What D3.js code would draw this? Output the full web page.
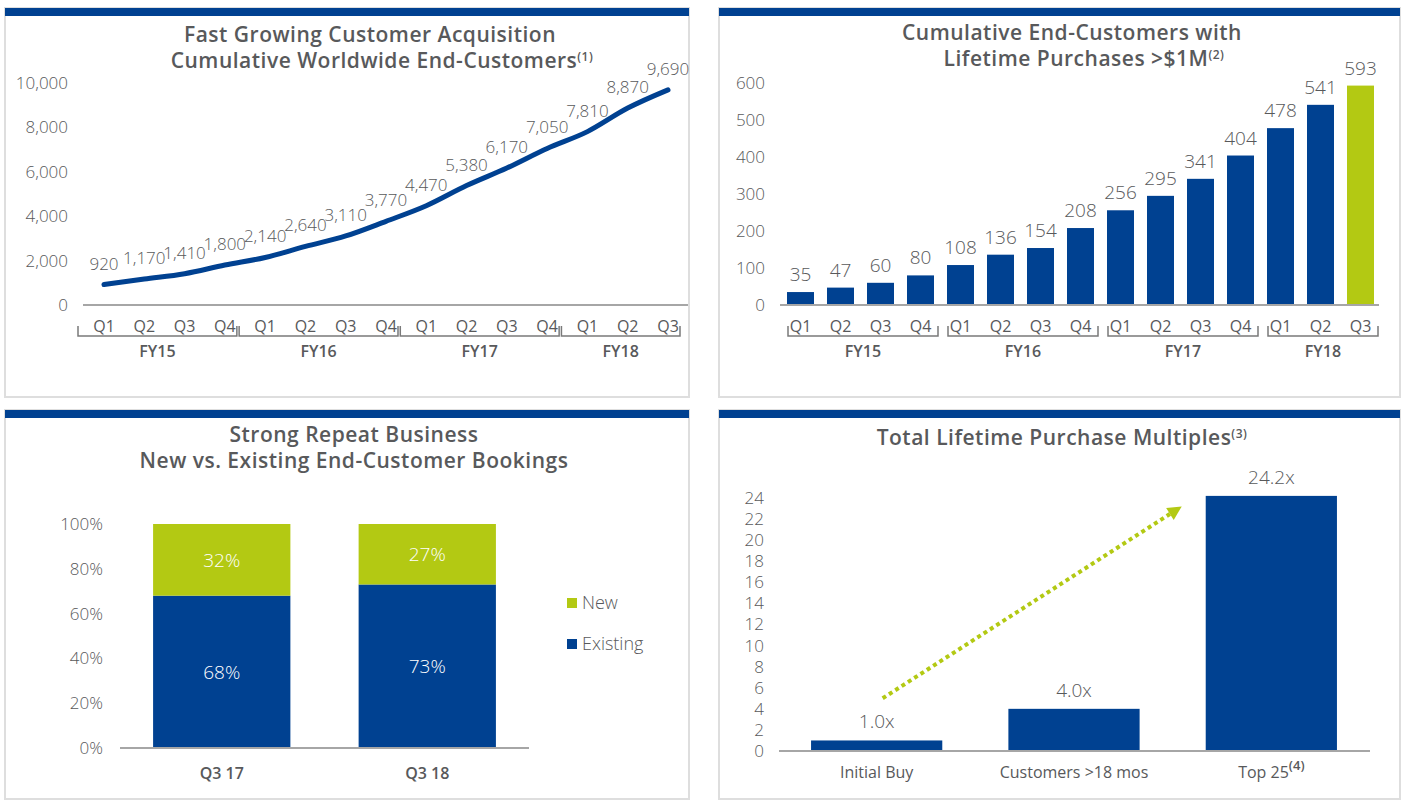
<!DOCTYPE html>
<html><head><meta charset="utf-8">
<script src="https://cdn.jsdelivr.net/npm/d3@7"></script>
<style>
html,body{margin:0;padding:0;background:#fff;}
svg{display:block;font-family:"Open Sans",sans-serif;}
</style></head>
<body><svg id="c" width="1406" height="806"></svg>
<script>
// ---------------- data ----------------
const quarters = ["Q1","Q2","Q3","Q4","Q1","Q2","Q3","Q4","Q1","Q2","Q3","Q4","Q1","Q2","Q3"];
const quarterFY = ["FY15","FY15","FY15","FY15","FY16","FY16","FY16","FY16","FY17","FY17","FY17","FY17","FY18","FY18","FY18"];
const fiscalYears = ["FY15","FY16","FY17","FY18"];
const endCustomers = [920,1170,1410,1800,2140,2640,3110,3770,4470,5380,6170,7050,7810,8870,9690];
const endCustomerTicks = [0,2000,4000,6000,8000,10000];
const millionCustomers = [35,47,60,80,108,136,154,208,256,295,341,404,478,541,593];
const millionTicks = [0,100,200,300,400,500,600];
const bookingPeriods = ["Q3 17","Q3 18"];
const existingShare = [68,73];
const newShare = [32,27];
const shareTicks = [0,20,40,60,80,100];
const multipleCats = ["Initial Buy","Customers >18 mos","Top 25"];
const multipleNotes = ["","","(4)"];
const multiples = [1.0,4.0,24.2];
const multipleTicks = [0,2,4,6,8,10,12,14,16,18,20,22,24];

// ---------------- style ----------------
const BLUE = "#004191", GREEN = "#b3c913", TXT = "#58595b", AX = "#a6a6a6", BR = "#7a7a7a";
const svg = d3.select("#c");

function panel(x0, x1, y0, y1){
  svg.append("rect").attr("x",x0).attr("y",y0).attr("width",x1-x0).attr("height",y1-y0)
    .attr("fill","#fff").attr("stroke","#dedede").attr("stroke-width",2);
  svg.append("rect").attr("x",x0).attr("y",y0).attr("width",x1-x0).attr("height",8).attr("fill",BLUE);
}
function title(lines, cx){
  lines.forEach(l=>{
    const t = svg.append("text").attr("x",cx[l.i]).attr("y",l.y).attr("text-anchor","middle")
      .attr("font-size",21).attr("font-weight",600).attr("letter-spacing",0.5).attr("fill",TXT);
    t.append("tspan").text(l.text);
    if(l.sup) t.append("tspan").attr("font-size",12).attr("dy",-7).text(l.sup);
  });
}
function yAxis(g, scale, ticks, fmt, pad){
  g.call(d3.axisLeft(scale).tickValues(ticks).tickSize(0).tickPadding(pad).tickFormat(fmt));
  g.select(".domain").remove();
  g.selectAll("text").attr("font-size",17).attr("font-weight",300).attr("fill",TXT).attr("font-family","Open Sans");
}
function brackets(g, groups, y){
  groups.forEach(gr=>{
    g.append("path").attr("d",`M${gr.l},${y-10}V${y}H${gr.r}V${y-10}`)
      .attr("fill","none").attr("stroke",BR).attr("stroke-width",1.5);
    g.append("text").attr("x",(gr.l+gr.r)/2).attr("y",y+21).attr("text-anchor","middle")
      .attr("font-size",16).attr("font-weight",600).attr("fill",TXT).text(gr.fy);
  });
}
function qLabels(g, xs, y){
  g.selectAll(".q").data(quarters).join("text")
    .attr("x",(d,i)=>xs(i)).attr("y",y).attr("text-anchor","middle")
    .attr("font-size",16).attr("font-weight",500).attr("fill",TXT).text(d=>d);
}

// ---------------- panels ----------------
panel(5,689,8,397);
panel(719,1400,8,397);
panel(5,689,410,799);
panel(719,1400,410,799);

// ======== Chart 1: line ========
{
  const x = d3.scalePoint().domain(d3.range(quarters.length)).range([104,668]);
  const y = d3.scaleLinear().domain([0,10000]).range([305,83]);
  const g = svg.append("g");
  title([{i:0,y:42,text:"Fast Growing Customer Acquisition"},{i:1,y:68,text:"Cumulative Worldwide End-Customers",sup:"(1)"}],[370,382]);
  yAxis(g.append("g").attr("transform","translate(83,0)"), y, endCustomerTicks, d3.format(","), 15);
  g.append("line").attr("x1",83).attr("x2",688).attr("y1",y(0)).attr("y2",y(0)).attr("stroke",AX).attr("stroke-width",2);
  g.append("path").datum(endCustomers)
    .attr("d", d3.line().x((d,i)=>x(i)).y(d=>y(d)).curve(d3.curveMonotoneX))
    .attr("fill","none").attr("stroke",BLUE).attr("stroke-width",5).attr("stroke-linecap","round");
  g.selectAll(".lbl").data(endCustomers).join("text")
    .attr("x",(d,i)=>x(i)).attr("y",d=>y(d)-15).attr("text-anchor","middle")
    .attr("font-size",17).attr("font-weight",300).attr("fill",TXT).text(d3.format(","));
  qLabels(g, i=>x(i), 332);
  const groups = fiscalYears.map(fy=>{
    const idx = d3.range(quarters.length).filter(i=>quarterFY[i]===fy);
    return {fy, l:x(idx[0])-26, r:x(idx[idx.length-1])+12};
  });
  brackets(g, groups, 336);
}

// ======== Chart 2: bars ========
{
  const x = d3.scaleBand().domain(d3.range(quarters.length)).range([780,1381]).paddingInner(0.325).paddingOuter(0.175);
  const y = d3.scaleLinear().domain([0,600]).range([305,83]);
  const g = svg.append("g");
  title([{i:0,y:40,text:"Cumulative End-Customers with"},{i:1,y:66,text:"Lifetime Purchases >$1M",sup:"(2)"}],[1072,1084]);
  yAxis(g.append("g").attr("transform","translate(780,0)"), y, millionTicks, d3.format("d"), 15);
  g.selectAll(".bar").data(millionCustomers).join("rect")
    .attr("x",(d,i)=>x(i)).attr("width",x.bandwidth()).attr("y",d=>y(d)).attr("height",d=>y(0)-y(d))
    .attr("fill",(d,i)=>i===millionCustomers.length-1?GREEN:BLUE);
  g.append("line").attr("x1",780).attr("x2",1379).attr("y1",y(0)).attr("y2",y(0)).attr("stroke",AX).attr("stroke-width",2);
  g.selectAll(".lbl").data(millionCustomers).join("text")
    .attr("x",(d,i)=>x(i)+x.bandwidth()/2).attr("y",d=>y(d)-11).attr("text-anchor","middle")
    .attr("font-size",19).attr("font-weight",300).attr("fill",TXT).text(d=>d);
  qLabels(g, i=>x(i)+x.bandwidth()/2, 332);
  const groups = fiscalYears.map(fy=>{
    const idx = d3.range(quarters.length).filter(i=>quarterFY[i]===fy);
    return {fy, l:x(idx[0])+1, r:x(idx[idx.length-1])+x.bandwidth()+4};
  });
  brackets(g, groups, 336);
}

// ======== Chart 3: stacked ========
{
  const x = d3.scaleBand().domain(bookingPeriods).range([120,529]).paddingInner(0.332).paddingOuter(0.161);
  const y = d3.scaleLinear().domain([0,100]).range([748,524]);
  const g = svg.append("g");
  title([{i:0,y:442,text:"Strong Repeat Business"},{i:1,y:468,text:"New vs. Existing End-Customer Bookings"}],[354,354]);
  yAxis(g.append("g").attr("transform","translate(120,0)"), y, shareTicks, d=>d+"%", 17);
  bookingPeriods.forEach((p,i)=>{
    const e = existingShare[i], n = newShare[i];
    g.append("rect").attr("x",x(p)).attr("width",x.bandwidth()).attr("y",y(e)).attr("height",y(0)-y(e)).attr("fill",BLUE);
    g.append("rect").attr("x",x(p)).attr("width",x.bandwidth()).attr("y",y(e+n)).attr("height",y(e)-y(e+n)).attr("fill",GREEN);
    g.append("text").attr("x",x(p)+x.bandwidth()/2).attr("y",(y(0)+y(e))/2+7).attr("text-anchor","middle")
      .attr("font-size",19).attr("font-weight",300).attr("fill","#fff").text(e+"%");
    g.append("text").attr("x",x(p)+x.bandwidth()/2).attr("y",(y(e)+y(e+n))/2+7).attr("text-anchor","middle")
      .attr("font-size",19).attr("font-weight",300).attr("fill","#fff").text(n+"%");
    g.append("text").attr("x",x(p)+x.bandwidth()/2).attr("y",779).attr("text-anchor","middle")
      .attr("font-size",16).attr("font-weight",600).attr("fill",TXT).text(p);
  });
  g.append("line").attr("x1",120).attr("x2",529).attr("y1",y(0)).attr("y2",y(0)).attr("stroke",AX).attr("stroke-width",2);
  [["New",GREEN,598],["Existing",BLUE,639]].forEach(([lab,col,yy])=>{
    g.append("rect").attr("x",567).attr("y",yy).attr("width",10).attr("height",10).attr("fill",col);
    g.append("text").attr("x",582).attr("y",yy+11).attr("font-size",18).attr("font-weight",300).attr("fill",TXT).text(lab);
  });
}

// ======== Chart 4: multiples ========
{
  const x = d3.scaleBand().domain(multipleCats).range([778,1370]).paddingInner(0.335).paddingOuter(0.1675);
  const y = d3.scaleLinear().domain([0,24]).range([751,498]);
  const g = svg.append("g");
  title([{i:0,y:445,text:"Total Lifetime Purchase Multiples",sup:"(3)"}],[1062]);
  yAxis(g.append("g").attr("transform","translate(779,0)"), y, multipleTicks, d3.format("d"), 15);
  g.selectAll(".bar").data(multiples).join("rect")
    .attr("x",(d,i)=>x(multipleCats[i])).attr("width",x.bandwidth()).attr("y",d=>y(d)).attr("height",d=>y(0)-y(d)).attr("fill",BLUE);
  g.append("line").attr("x1",779).attr("x2",1370).attr("y1",y(0)).attr("y2",y(0)).attr("stroke",AX).attr("stroke-width",2);
  g.selectAll(".lbl").data(multiples).join("text")
    .attr("x",(d,i)=>x(multipleCats[i])+x.bandwidth()/2).attr("y",d=>y(d)-12).attr("text-anchor","middle")
    .attr("font-size",19).attr("font-weight",300).attr("fill",TXT).text(d=>d.toFixed(1)+"x");
  multipleCats.forEach((c,i)=>{
    const t = g.append("text").attr("x",x(c)+x.bandwidth()/2).attr("y",778).attr("text-anchor","middle")
      .attr("font-size",16).attr("font-weight",500).attr("fill",TXT);
    t.append("tspan").text(c);
    if(multipleNotes[i]) t.append("tspan").attr("font-size",13).attr("font-weight",600).attr("dy",-8).text(multipleNotes[i]);
  });
  // dotted trend arrow
  const x1 = x(multipleCats[0])+x.bandwidth()/2+6, y1 = y(5);
  const x2 = x(multipleCats[2])-24, y2 = y(23.2);
  const ang = Math.atan2(y2-y1, x2-x1), L = 14, W = 7;
  const bx = x2 - L*Math.cos(ang), by = y2 - L*Math.sin(ang);
  g.append("line").attr("x1",x1).attr("y1",y1).attr("x2",bx).attr("y2",by)
    .attr("stroke",GREEN).attr("stroke-width",4).attr("stroke-dasharray","4,3.5");
  g.append("path").attr("d",`M${x2},${y2}L${bx+W*Math.sin(ang)},${by-W*Math.cos(ang)}L${bx-W*Math.sin(ang)},${by+W*Math.cos(ang)}Z`)
    .attr("fill",GREEN);
}
</script></body></html>
